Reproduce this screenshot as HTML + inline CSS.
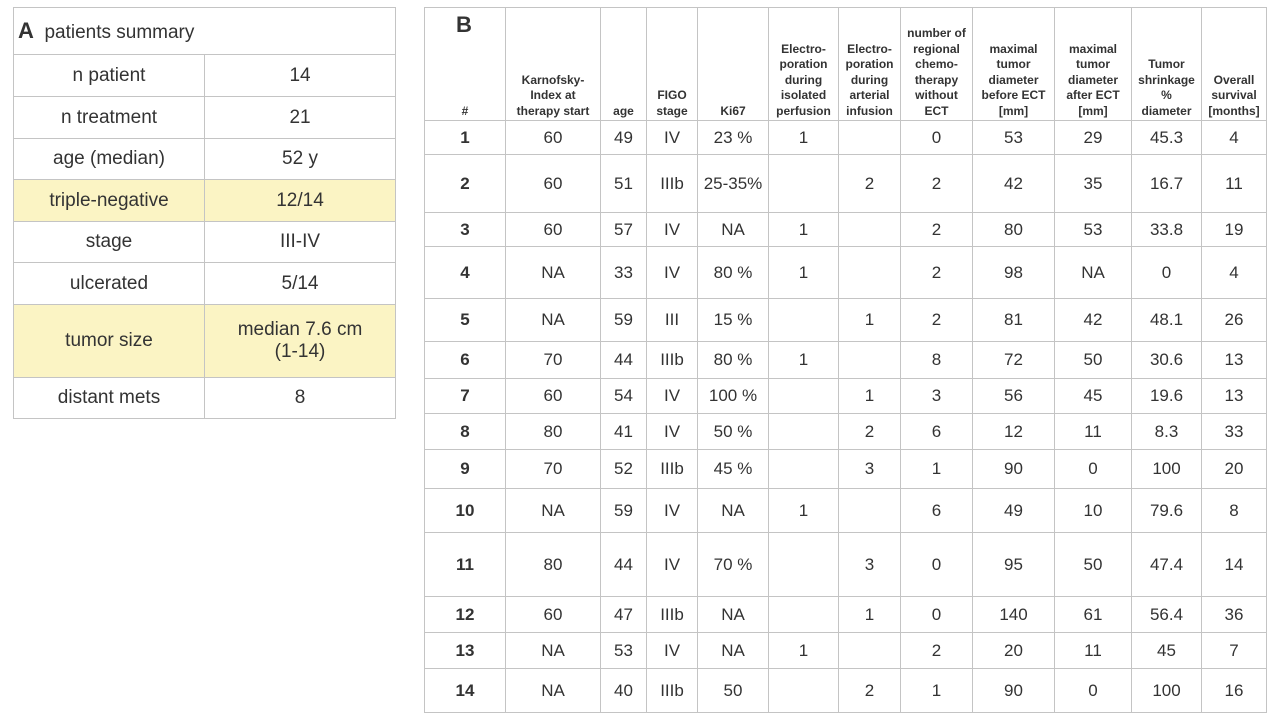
<!DOCTYPE html>
<html><head><meta charset="utf-8"><style>
body{margin:0;width:1280px;height:720px;background:#fff;font-family:"Liberation Sans",Arial,sans-serif;color:#333;position:relative;overflow:hidden}
table{border-collapse:collapse;table-layout:fixed;position:absolute}
td{border:1px solid #c4c4c4;text-align:center;padding:0;overflow:hidden}
#a{left:13px;top:7px;width:383px;font-size:19px}
#a td.y{background:#fbf4c4}
#b{left:424px;top:7px;width:842px;font-size:17px}
#b tr.h td{font-size:12px;font-weight:bold;vertical-align:bottom;line-height:15.5px;padding-bottom:1px}
#b td.n{font-weight:bold}
</style></head><body>
<table id="a">
<col style="width:191px"><col style="width:191px">
<tr style="height:47px"><td colspan="2" style="text-align:left;padding-left:4px"><b style="font-size:22px">A</b>&nbsp;&nbsp;patients summary</td></tr>
<tr style="height:42px"><td>n patient</td><td>14</td></tr>
<tr style="height:42px"><td>n treatment</td><td>21</td></tr>
<tr style="height:41px"><td>age (median)</td><td>52 y</td></tr>
<tr style="height:42px"><td class="y">triple-negative</td><td class="y">12/14</td></tr>
<tr style="height:41px"><td>stage</td><td>III-IV</td></tr>
<tr style="height:42px"><td>ulcerated</td><td>5/14</td></tr>
<tr style="height:73px"><td class="y">tumor size</td><td class="y">median 7.6 cm<br>(1-14)</td></tr>
<tr style="height:41px"><td>distant mets</td><td>8</td></tr>
</table>
<table id="b">
<col style="width:81px"><col style="width:95px"><col style="width:46px"><col style="width:51px"><col style="width:71px"><col style="width:70px"><col style="width:62px"><col style="width:72px"><col style="width:82px"><col style="width:77px"><col style="width:70px"><col style="width:65px">
<tr class="h" style="height:113px"><td style="position:relative"><b style="position:absolute;left:31px;top:9px;font-size:22px">B</b>#</td><td>Karnofsky-<br>Index at<br>therapy start</td><td>age</td><td>FIGO<br>stage</td><td>Ki67</td><td>Electro-<br>poration<br>during<br>isolated<br>perfusion</td><td>Electro-<br>poration<br>during<br>arterial<br>infusion</td><td>number of<br>regional<br>chemo-<br>therapy<br>without<br>ECT</td><td>maximal<br>tumor<br>diameter<br>before ECT<br>[mm]</td><td>maximal<br>tumor<br>diameter<br>after ECT<br>[mm]</td><td>Tumor<br>shrinkage<br>%<br>diameter</td><td>Overall<br>survival<br>[months]</td></tr>
<tr style="height:34px"><td class="n">1</td><td>60</td><td>49</td><td>IV</td><td>23 %</td><td>1</td><td></td><td>0</td><td>53</td><td>29</td><td>45.3</td><td>4</td></tr>
<tr style="height:58px"><td class="n">2</td><td>60</td><td>51</td><td>IIIb</td><td>25-35%</td><td></td><td>2</td><td>2</td><td>42</td><td>35</td><td>16.7</td><td>11</td></tr>
<tr style="height:34px"><td class="n">3</td><td>60</td><td>57</td><td>IV</td><td>NA</td><td>1</td><td></td><td>2</td><td>80</td><td>53</td><td>33.8</td><td>19</td></tr>
<tr style="height:52px"><td class="n">4</td><td>NA</td><td>33</td><td>IV</td><td>80 %</td><td>1</td><td></td><td>2</td><td>98</td><td>NA</td><td>0</td><td>4</td></tr>
<tr style="height:43px"><td class="n">5</td><td>NA</td><td>59</td><td>III</td><td>15 %</td><td></td><td>1</td><td>2</td><td>81</td><td>42</td><td>48.1</td><td>26</td></tr>
<tr style="height:37px"><td class="n">6</td><td>70</td><td>44</td><td>IIIb</td><td>80 %</td><td>1</td><td></td><td>8</td><td>72</td><td>50</td><td>30.6</td><td>13</td></tr>
<tr style="height:35px"><td class="n">7</td><td>60</td><td>54</td><td>IV</td><td>100 %</td><td></td><td>1</td><td>3</td><td>56</td><td>45</td><td>19.6</td><td>13</td></tr>
<tr style="height:36px"><td class="n">8</td><td>80</td><td>41</td><td>IV</td><td>50 %</td><td></td><td>2</td><td>6</td><td>12</td><td>11</td><td>8.3</td><td>33</td></tr>
<tr style="height:39px"><td class="n">9</td><td>70</td><td>52</td><td>IIIb</td><td>45 %</td><td></td><td>3</td><td>1</td><td>90</td><td>0</td><td>100</td><td>20</td></tr>
<tr style="height:44px"><td class="n">10</td><td>NA</td><td>59</td><td>IV</td><td>NA</td><td>1</td><td></td><td>6</td><td>49</td><td>10</td><td>79.6</td><td>8</td></tr>
<tr style="height:64px"><td class="n">11</td><td>80</td><td>44</td><td>IV</td><td>70 %</td><td></td><td>3</td><td>0</td><td>95</td><td>50</td><td>47.4</td><td>14</td></tr>
<tr style="height:36px"><td class="n">12</td><td>60</td><td>47</td><td>IIIb</td><td>NA</td><td></td><td>1</td><td>0</td><td>140</td><td>61</td><td>56.4</td><td>36</td></tr>
<tr style="height:36px"><td class="n">13</td><td>NA</td><td>53</td><td>IV</td><td>NA</td><td>1</td><td></td><td>2</td><td>20</td><td>11</td><td>45</td><td>7</td></tr>
<tr style="height:44px"><td class="n">14</td><td>NA</td><td>40</td><td>IIIb</td><td>50</td><td></td><td>2</td><td>1</td><td>90</td><td>0</td><td>100</td><td>16</td></tr>
</table>
</body></html>
